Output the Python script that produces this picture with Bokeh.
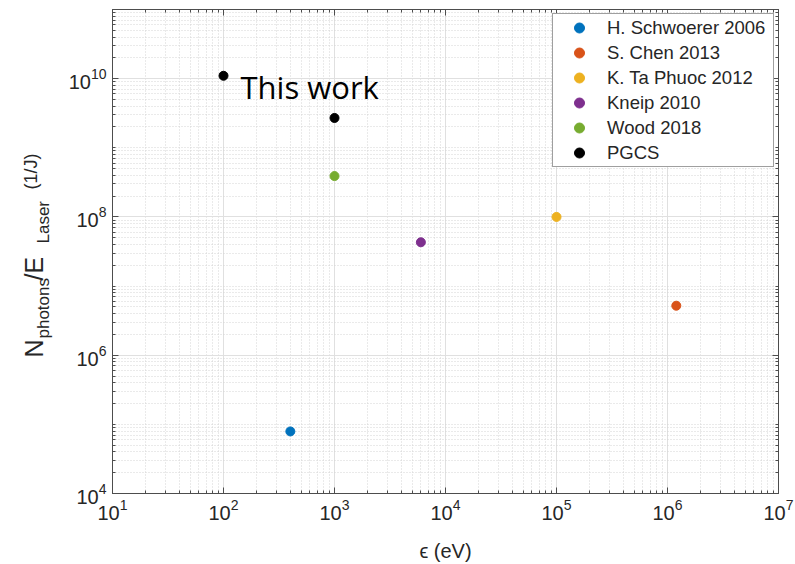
import math
from bokeh.plotting import figure
from bokeh.layouts import row
from bokeh.core.properties import value
from bokeh.models import FixedTicker, LogAxis, Legend, LegendItem, Label
from bokeh.embed import file_html
from bokeh.resources import INLINE

# ---- data ----
series_names = ["H. Schwoerer 2006", "S. Chen 2013", "K. Ta Phuoc 2012",
                "Kneip 2010", "Wood 2018", "PGCS"]
series_colors = ["#0072BD", "#D95319", "#EDB120", "#7E2F8E", "#77AC30", "#000000"]

schwoerer_x = [400.0]
schwoerer_y = [7.9e4]
chen_x = [1.2e6]
chen_y = [5.2e6]
taphuoc_x = [1.0e5]
taphuoc_y = [1.0e8]
kneip_x = [6.0e3]
kneip_y = [4.3e7]
wood_x = [1.0e3]
wood_y = [3.9e8]
pgcs_x = [1.0e2, 1.0e3]
pgcs_y = [1.1e10, 2.7e9]

x_major_ticks = [1e1, 1e2, 1e3, 1e4, 1e5, 1e6, 1e7]
y_major_ticks = [1e4, 1e6, 1e8, 1e10]
x_minor_ticks = [k * 10 ** n for n in range(1, 7) for k in range(2, 10)]
y_minor_ticks = [k * 10 ** n for n in range(4, 11) for k in range(1, 10)
                 if float(k * 10 ** n) not in y_major_ticks]

series_x = [schwoerer_x, chen_x, taphuoc_x, kneip_x, wood_x, pgcs_x]
series_y = [schwoerer_y, chen_y, taphuoc_y, kneip_y, wood_y, pgcs_y]

# y-axis label pieces (main text and subscripts)
ylabel_texts = ["N", "photons", "/E", "Laser", "(1/J)"]

AX = "#4d4d4d"
TXT = "#262626"
FONT = "Liberation Sans"
LEFT_W = 60
H = 564
B_TOP = 9
B_BOT = 71

# ---------------- left strip with the rotated y label ----------------
pl = figure(width=LEFT_W, height=H, x_range=(0, LEFT_W), y_range=(B_BOT, H - B_TOP),
            output_backend="svg", toolbar_location=None,
            x_axis_location=None, y_axis_location=None,
            min_border_left=0, min_border_right=0,
            min_border_top=B_TOP, min_border_bottom=B_BOT,
            outline_line_color=None)
pl.grid.visible = False
pl.background_fill_color = "white"
pl.border_fill_color = "white"

# (baseline x, start y measured from top, font size) for each piece
ylabel_layout = [(33, 357, "25px"), (43, 338, "17px"), (33, 280, "25px"),
                 (43, 243, "17px"), (30, 189, "18px")]
for txt, (bx, ty, fs) in zip(ylabel_texts, ylabel_layout):
    pl.text(x=[bx], y=[H - ty], text=[txt], angle=math.pi / 2,
            text_font=value(FONT), text_font_size=value(fs), text_color=TXT,
            text_align="left", text_baseline="alphabetic")

# ---------------- main plot ----------------
p = figure(width=795 - LEFT_W, height=H, x_axis_type="log", y_axis_type="log",
           x_range=(10, 1e7), y_range=(1e4, 1e11),
           output_backend="svg", toolbar_location=None,
           min_border_left=112 - LEFT_W, min_border_right=17,
           min_border_top=B_TOP, min_border_bottom=B_BOT)
p.background_fill_color = "white"
p.border_fill_color = "white"
p.outline_line_color = AX

xt = FixedTicker(ticks=x_major_ticks, minor_ticks=x_minor_ticks)
yt = FixedTicker(ticks=y_major_ticks, minor_ticks=y_minor_ticks)

for ax, t in ((p.xaxis[0], xt), (p.yaxis[0], yt)):
    ax.ticker = t
    ax.axis_line_color = AX
    ax.major_tick_line_color = AX
    ax.minor_tick_line_color = AX
    ax.major_tick_in = 6
    ax.major_tick_out = 0
    ax.minor_tick_in = 3
    ax.minor_tick_out = 0
    ax.major_label_text_font = FONT
    ax.major_label_text_font_size = "20px"
    ax.major_label_text_color = TXT

p.xaxis.major_label_standoff = 5
p.yaxis.major_label_standoff = 6
p.xaxis.axis_label = "ϵ (eV)"
p.xaxis.axis_label_text_font = FONT
p.xaxis.axis_label_text_font_size = "20px"
p.xaxis.axis_label_text_font_style = "normal"
p.xaxis.axis_label_text_color = TXT
p.xaxis.axis_label_standoff = 17

for g, t in ((p.xgrid[0], xt), (p.ygrid[0], yt)):
    g.ticker = t
    g.grid_line_color = "#e0e0e0"
    g.grid_line_width = 1
    g.minor_grid_line_color = "#d4d4d4"
    g.minor_grid_line_dash = "1 2"
    g.minor_grid_line_width = 1

# box ticks on the top and right sides (labels invisible)
for loc, t in (("right", yt), ("above", xt)):
    ax = LogAxis(ticker=t, major_label_text_font_size="1px",
                 major_label_text_alpha=0.0, major_label_standoff=0,
                 major_tick_in=6, major_tick_out=0, minor_tick_in=3, minor_tick_out=0,
                 axis_line_color=AX, major_tick_line_color=AX, minor_tick_line_color=AX)
    p.add_layout(ax, loc)

items = []
for name, c, xs, ys in zip(series_names, series_colors, series_x, series_y):
    r = p.scatter(xs, ys, size=9, fill_color=c, line_color=c)
    items.append(LegendItem(label=name, renderers=[r]))

legend = Legend(items=items, location=(440, 326),
                label_text_font=FONT, label_text_font_size="18.5px",
                label_text_color=TXT, border_line_color="#404040",
                border_line_width=1, background_fill_color="white",
                background_fill_alpha=1.0, padding=1, spacing=0, margin=0,
                glyph_width=50, glyph_height=25, label_height=25,
                label_standoff=3, label_width=165)
p.add_layout(legend)

p.add_layout(Label(x=128, y=407, x_units="screen", y_units="screen",
                   text="This work", text_font="Open Sans", text_font_size="31px",
                   text_color="black", text_align="left",
                   text_baseline="alphabetic"))

layout = row(pl, p, spacing=0)
open("out.html", "w").write(file_html(layout, INLINE))
